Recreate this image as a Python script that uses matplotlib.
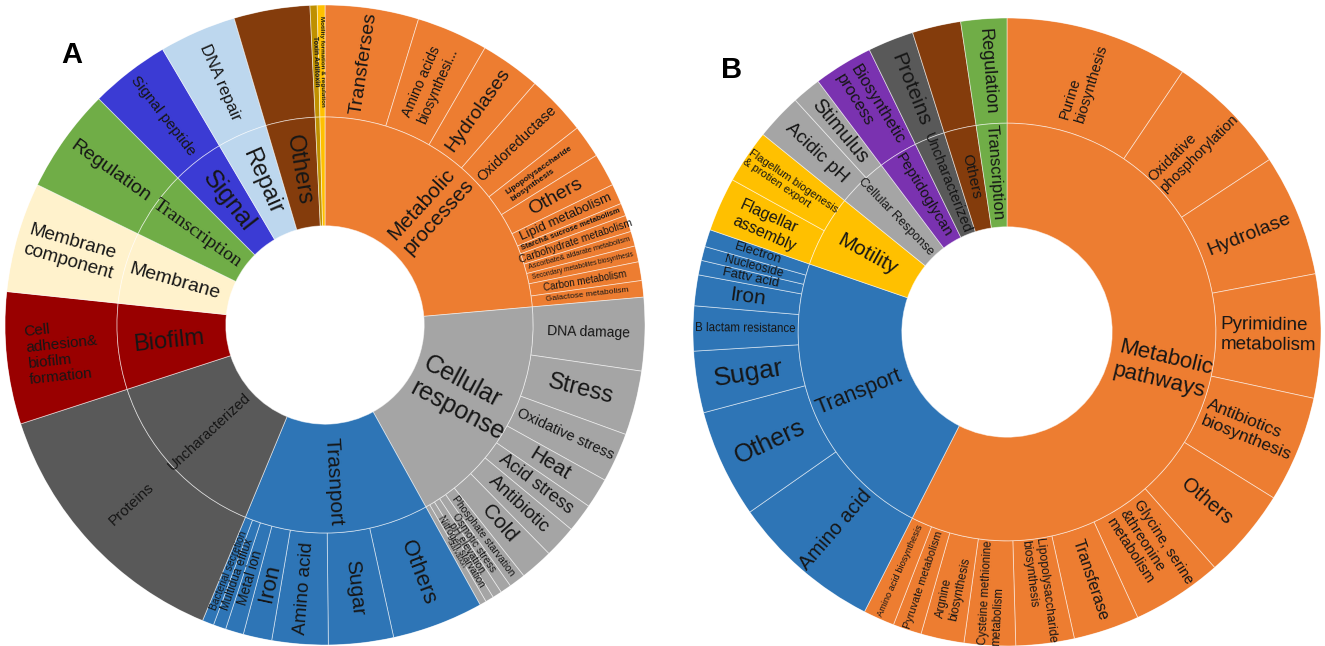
import numpy as np
import matplotlib.pyplot as plt

plt.rcParams['font.family'] = ['Liberation Sans', 'DejaVu Sans']

# ---------------- Panel A ----------------
# inner ring: functional categories (clockwise from 12 o'clock)
a_groups = ['Metabolic\nprocesses', 'Cellular\nresponse', 'Trasnport', 'Uncharacterized',
            'Biofilm', 'Membrane', 'Transcription', 'Signal', 'Repair', 'Others', '', '']
# outer ring: subcategories, their sizes and the category they belong to
a_leaves = ['Transferses', 'Amino acids\nbiosynthesi...', 'Hydrolases', 'Oxidoreductase',
            'Lipopolysaccharide\nbiosynthesis', 'Others', 'Lipid metabolism',
            'Starch& sucrose metabolism', 'Carbohydrate metabolism',
            'Ascorbate& aldarate metabolism', 'Secondary metabolites biosynthesis',
            'Carbon metabolism', 'Galactose metabolism',
            'DNA damage', 'Stress', 'Oxidative stress', 'Heat', 'Acid stress', 'Antibiotic',
            'Cold', 'Phosphate starvation', 'Osmotic stress', 'pH elevation',
            'Nitrogen starvation', 'Starvation',
            'Others', 'Sugar', 'Amino acid', 'Iron', 'Metal ion', 'Multidua efflux',
            'Bacterial secretion',
            'Proteins', 'Cell\nadhesion&\nbiofilm\nformation', 'Membrane\ncomponent',
            'Regulation', 'Signal peptide', 'DNA repair', '', 'Toxin Antitoxin',
            'Motility formation & regulation']
a_values = [17, 13, 11, 11, 6, 6, 3.7, 2.3, 3, 2.7, 2.9, 3.4, 3,
            13.3, 11.7, 9, 5.5, 5.2, 5.9, 6, 3, 2, 1.7, 1.5, 1.2,
            16.6, 11.8, 10.2, 5.2, 3.3, 2.3, 2.1,
            49.5, 24, 20, 19, 14.5, 14, 13.8, 1.3, 1.4]
a_parent = [0] * 13 + [1] * 12 + [2] * 7 + [3, 4, 5, 6, 7, 8, 9, 10, 11]

a_colors = ['#ED7D31', '#A5A5A5', '#2E75B6', '#595959', '#990000', '#FFF2CC',
            '#70AD47', '#3B3BD4', '#BDD7EE', '#843C0C', '#BF9000', '#FFC000']
a_group_fs = [15, 18, 15, 10.5, 17, 14, 14, 18, 17, 17, 1, 1]
a_leaf_fs = [14, 10, 14, 10.5, 6, 14, 9.5, 5.5, 7.5, 5.3, 4.7, 7, 6,
             10, 17, 10.5, 15, 13, 13.5, 15, 7.5, 7.5, 7.5, 7, 5,
             16, 15, 13.5, 16, 10, 8.4, 7.4,
             11, 11, 13.5, 14, 11, 12, 1, 5, 4.5]
a_leaf_bold = [4, 7, 39, 40]

# ---------------- Panel B ----------------
b_groups = ['Metabolic\npathways', 'Transport', 'Motility', 'Cellular Response',
            'Peptidoglycan', 'Uncharacterized', 'Others', 'Transcription']
b_leaves = ['Purine\nbiosynthesis', 'Oxidative\nphosphorylation', 'Hydrolase',
            'Pyrimidine\nmetabolism', 'Antibiotics\nbiosynthesis', 'Others',
            'Glycine, serine\n&threonine\nmetabolism', 'Transferase',
            'Lipopolysaccharide\nbiosynthesis', 'Cysteine methionine\nmetabolism',
            'Argnine\nbiosynthesis', 'Pyruvate metabolism', 'Amino acid biosynthesis',
            'Amino acid', 'Others', 'Sugar', 'B lactam resistance', 'Iron', 'Fattv acid',
            'Nucleoside', 'Electron',
            'Flagellar\nassembly', 'Flagellum biogenesis\n& protien export',
            'Acidic pH', 'Stimulus', 'Biosynthetic\nprocess', 'Proteins', '', 'Regulation']
b_values = [34, 22.7, 22.6, 22.9, 19.7, 16.7, 16.8, 12.2, 10.8, 9.5, 8, 5.3, 5.8,
            28, 20.1, 11.4, 8.3, 5.7, 2.7, 2.6, 3.2,
            10, 10, 8.6, 5.4, 11, 8.5, 9, 8.5]
b_parent = [0] * 13 + [1] * 8 + [2, 2, 3, 3, 4, 5, 6, 7]

b_colors = ['#ED7D31', '#2E75B6', '#FFC000', '#A5A5A5', '#7A32B0', '#595959',
            '#843C0C', '#70AD47']
b_group_fs = [16, 15.5, 15, 9, 11, 10.5, 11, 12]
b_leaf_fs = [10.5, 10.5, 14, 13.5, 12.5, 14.5, 10.5, 11.5, 8.8, 8.3, 8.4, 7.8, 6.7,
             14.5, 18, 19, 8.3, 15, 9.5, 8.7, 9.5,
             11.5, 8, 13.5, 14.5, 12, 15, 1, 13]


def radial_rotation(theta):
    # text runs along the radius, flipped so it is never upside down
    phi = 90 - np.degrees(theta)
    return (phi + 90) % 180 - 90


def sunburst(ax, groups, leaves, values, parent, colors, group_fs, leaf_fs,
             r_hole, r_mid, bold_leaves=(), serif_groups=()):
    ax.set_theta_zero_location('N')
    ax.set_theta_direction(-1)
    ax.set_ylim(0, 1)
    ax.set_axis_off()

    values = np.asarray(values, float)
    parent = np.asarray(parent)
    span = values / values.sum() * 2 * np.pi
    start = np.concatenate([[0], np.cumsum(span)[:-1]])
    g_span = np.array([span[parent == g].sum() for g in range(len(groups))])
    g_start = np.concatenate([[0], np.cumsum(g_span)[:-1]])

    edge = (1, 1, 1, 0.55)
    ax.bar(start + span / 2, 1 - r_mid, width=span, bottom=r_mid,
           color=[colors[p] for p in parent], edgecolor=edge, linewidth=0.6)
    ax.bar(g_start + g_span / 2, r_mid - r_hole, width=g_span, bottom=r_hole,
           color=colors, edgecolor=edge, linewidth=0.6)

    r_out_lab = (1 + r_mid) / 2
    for i, lab in enumerate(leaves):
        if not lab:
            continue
        th = start[i] + span[i] / 2
        ax.text(th, r_out_lab, lab, rotation=radial_rotation(th), rotation_mode='anchor',
                ha='center', va='center', multialignment='left', fontsize=leaf_fs[i],
                fontweight='bold' if i in bold_leaves else 'normal', color='#161616')

    r_in_lab = (r_mid + r_hole) / 2 + 0.01
    for g, lab in enumerate(groups):
        if not lab:
            continue
        th = g_start[g] + g_span[g] / 2
        fam = ['Liberation Serif', 'DejaVu Serif'] if g in serif_groups else None
        ax.text(th, r_in_lab, lab, rotation=radial_rotation(th), rotation_mode='anchor',
                ha='center', va='center', multialignment='left', fontsize=group_fs[g],
                color='#161616', family=fam)


fig = plt.figure(figsize=(13.25, 6.46), dpi=100)

ax_a = fig.add_axes([5 / 1325, 1 / 646, 640 / 1325, 640 / 646], projection='polar')
sunburst(ax_a, a_groups, a_leaves, a_values, a_parent, a_colors, a_group_fs, a_leaf_fs,
         r_hole=0.31, r_mid=0.65, bold_leaves=a_leaf_bold, serif_groups=(6,))

ax_b = fig.add_axes([693 / 1325, 0, 628 / 1325, 628 / 646], projection='polar')
sunburst(ax_b, b_groups, b_leaves, b_values, b_parent, b_colors, b_group_fs, b_leaf_fs,
         r_hole=0.335, r_mid=0.665)

fig.text(72 / 1325, 1 - 55 / 646, 'A', fontsize=21, fontweight='bold', ha='center', va='center')
fig.text(732 / 1325, 1 - 70 / 646, 'B', fontsize=21, fontweight='bold', ha='center', va='center')

fig.savefig('out.png', dpi=100)
